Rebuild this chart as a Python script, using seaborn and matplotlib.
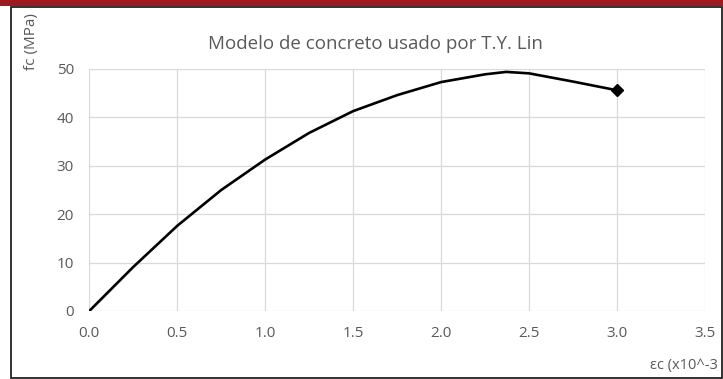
import matplotlib
matplotlib.use('Agg')
import matplotlib.pyplot as plt
import seaborn as sns
import pandas as pd
from matplotlib.patches import Rectangle

# Data
deformacion = [0.0, 0.25, 0.5, 0.75, 1.0, 1.25, 1.5, 1.75, 2.0, 2.25, 2.37, 2.5, 2.75, 3.0]
esfuerzo = [0.0, 9.1, 17.6, 25.0, 31.3, 36.8, 41.3, 44.6, 47.3, 48.9, 49.4, 49.1, 47.4, 45.6]
x_ticks = [0.0, 0.5, 1.0, 1.5, 2.0, 2.5, 3.0, 3.5]
y_ticks = [0, 10, 20, 30, 40, 50]

titulo = 'Modelo de concreto usado por T.Y. Lin'
etiqueta_y = 'fc (MPa)'
etiqueta_x = 'εc (x10^-3'

GRIS_TEXTO = '#595959'
GRIS_GRID = '#d9d9d9'

sns.set_theme(style='whitegrid')
plt.rcParams['font.family'] = ['Open Sans', 'DejaVu Sans']

df = pd.DataFrame({'eps': deformacion, 'fc': esfuerzo})

fig = plt.figure(figsize=(7.23, 3.79), dpi=100)
fig.patch.set_facecolor('white')
ax = fig.add_axes([89.3 / 723, (379 - 311) / 379, (705 - 89.3) / 723, (311 - 69) / 379])

sns.lineplot(data=df, x='eps', y='fc', ax=ax, color='black', linewidth=1.9)
ultimo = df.iloc[[-1]]
ax.plot(ultimo['eps'], ultimo['fc'], marker='D', color='black', markersize=6, linestyle='none')

ax.set_xlim(0, 3.5)
ax.set_ylim(0, 50)
ax.set_xticks(x_ticks)
ax.set_xticklabels([f'{t:.1f}' for t in x_ticks])
ax.set_yticks(y_ticks)
ax.set_yticklabels([str(t) for t in y_ticks])
ax.tick_params(axis='both', colors=GRIS_TEXTO, labelsize=11, length=0)
ax.tick_params(axis='y', pad=11)
ax.tick_params(axis='x', pad=11)
ax.grid(True, color=GRIS_GRID, linewidth=0.9)
for s in ax.spines.values():
    s.set_visible(False)
ax.set_facecolor('white')
ax.set_xlabel('')
ax.set_ylabel('')

# title and axis labels placed like the original
fig.text(375 / 723, 1 - 44 / 379, titulo, ha='center', va='center', fontsize=13.5, color=GRIS_TEXTO)
fig.text(31 / 723, 1 - 42 / 379, etiqueta_y, ha='center', va='center', rotation=90, fontsize=11, color=GRIS_TEXTO)
fig.text(718 / 723, 1 - 366 / 379, etiqueta_x, ha='right', va='center', fontsize=10.5, color=GRIS_TEXTO)

# frame and top band
fig.add_artist(Rectangle((0, 1 - 5.5 / 379), 1, 5.5 / 379, transform=fig.transFigure,
                         facecolor='#9b1b20', edgecolor='none'))
fig.add_artist(Rectangle((10.5 / 723, 1.5 / 379), (721.5 - 10.5) / 723, (377.5 - 6.5) / 379,
                         transform=fig.transFigure, fill=False, edgecolor='#222222', linewidth=1.3))

fig.savefig('out.png', dpi=100)
